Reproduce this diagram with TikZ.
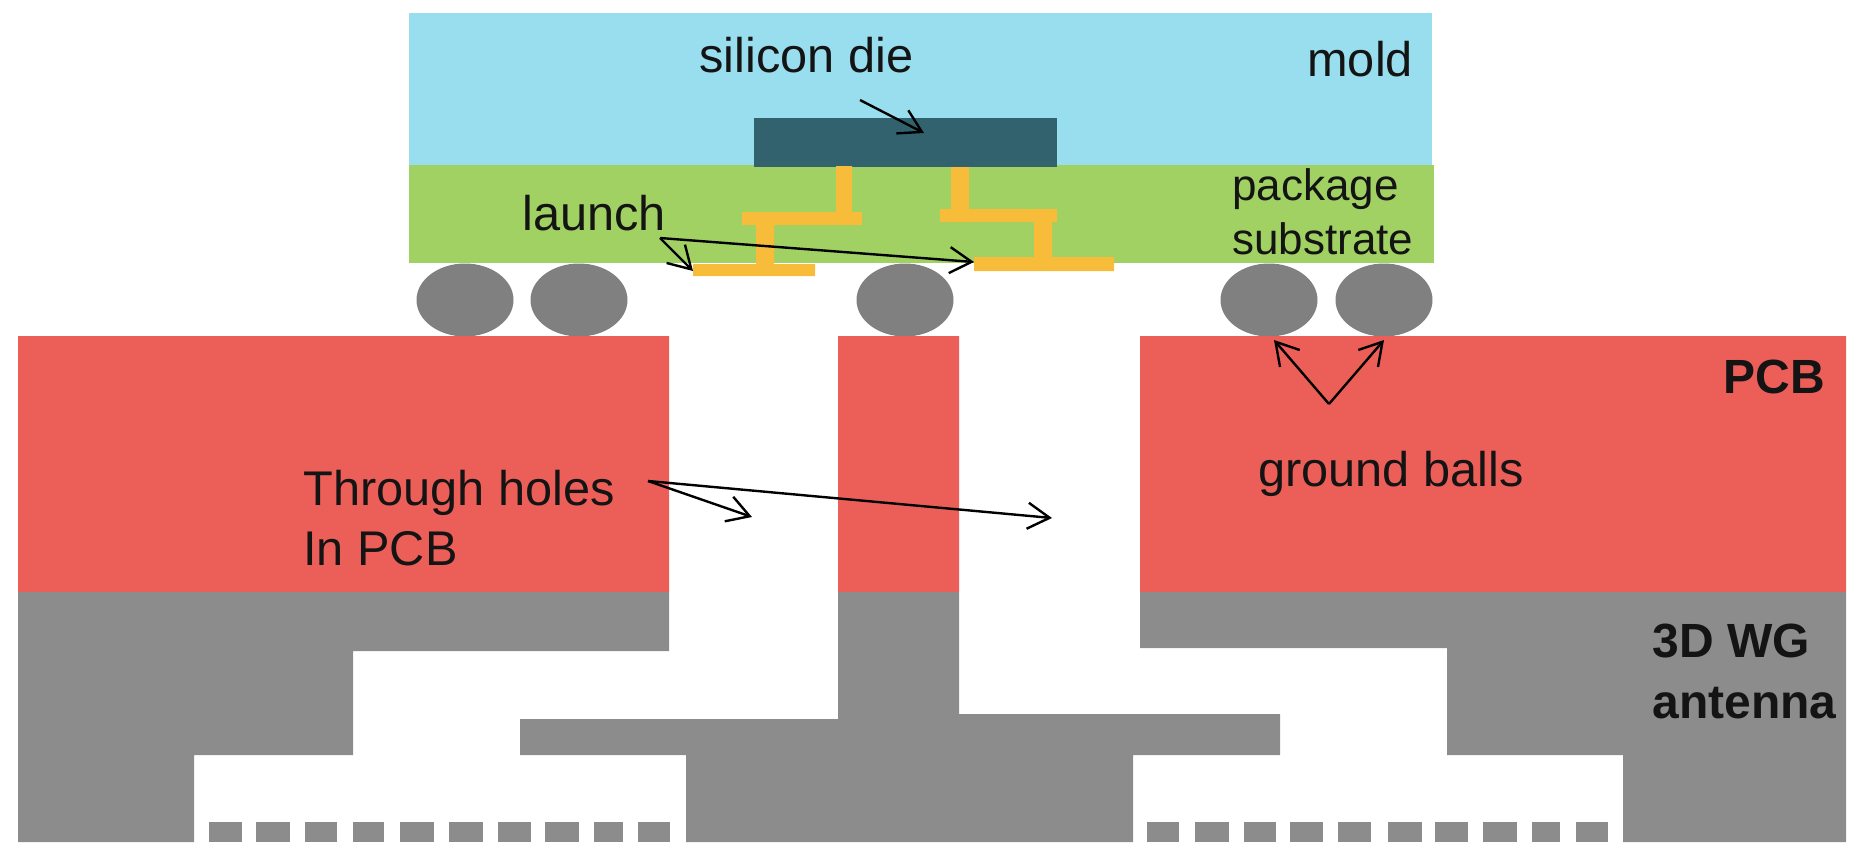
\documentclass[tikz,border=0pt]{standalone}
\usepackage{fontspec}
\setmainfont{Liberation Sans}
\usetikzlibrary{arrows.meta,shapes.geometric}
\definecolor{moldc}{HTML}{98DEEE}
\definecolor{subc}{HTML}{A0D162}
\definecolor{diec}{HTML}{33626F}
\definecolor{metalc}{HTML}{F6BC3A}
\definecolor{ballc}{HTML}{808080}
\definecolor{pcbc}{HTML}{EC5F59}
\definecolor{wgc}{HTML}{8C8C8C}
\definecolor{inkc}{HTML}{141414}
\tikzset{
  x=0.5pt,y=-0.5pt,
  lab/.style={anchor=base west,inner sep=0pt,text=inkc,font=\fontsize{24.35}{28}\selectfont},
  labsmall/.style={lab,font=\fontsize{22}{26}\selectfont},
  labbold/.style={lab,font=\fontsize{24}{28}\selectfont\bfseries},
  solder/.style={ellipse,fill=ballc,minimum width=48.5pt,minimum height=36.5pt,inner sep=0pt},
  pointer/.style={draw=black,line width=1.2pt,-{Straight Barb[length=11pt,width=13pt,line width=1.2pt]}},
}
\begin{document}
\begin{tikzpicture}
\useasboundingbox (0,0) rectangle (1864,852);
% package layers
\fill[moldc] (409,13) rectangle (1432,165);
\fill[subc] (409,165) rectangle (1434,263);
\fill[diec] (754,118) rectangle (1057,167);
% launch metal, left and right
\fill[metalc] (836,166) rectangle (852,214) (742,212) rectangle (862,225)
  (756,225) rectangle (774,265) (693,264) rectangle (815,276);
\fill[metalc] (951,167) rectangle (969,211) (940,209) rectangle (1057,222)
  (1034,222) rectangle (1052,258) (974,257) rectangle (1114,271);
% solder balls
\node[solder] (b1) at (465,300) {};
\node[solder] (b2) at (579,300) {};
\node[solder] (b3) at (905,300) {};
\node[solder] (b4) at (1269,300) {};
\node[solder] (b5) at (1384,300) {};
% printed circuit board
\fill[pcbc] (18,336) rectangle (669,592) (838,336) rectangle (959,592) (1140,336) rectangle (1846,592);
% waveguide antenna body
\fill[wgc] (18,592) -- (669,592) -- (669,651) -- (353,651) -- (353,755) -- (194,755) -- (194,842) -- (18,842) -- cycle;
\fill[wgc] (838,592) -- (959,592) -- (959,714) -- (1280,714) -- (1280,755) -- (1133,755) -- (1133,842) -- (686,842) -- (686,755) -- (520,755) -- (520,719) -- (838,719) -- cycle;
\fill[wgc] (1140,592) -- (1846,592) -- (1846,842) -- (1623,842) -- (1623,755) -- (1447,755) -- (1447,648) -- (1140,648) -- cycle;
% radiating slots
\foreach \a/\b in {209/242,256/290,305/337,353/384,400/434,449/483,498/531,545/579,594/623,638/670,
                   1147/1179,1195/1229,1244/1276,1290/1323,1338/1371,1388/1422,1435/1468,1483/1517,1532/1560,1576/1608}
  \fill[wgc] (\a,822) rectangle (\b,842);
% labels
\node[lab] (tdie) at (699,72) {silicon die};
\node[lab] (tmold) at (1307,76) {mold};
\node[lab] (tlaunch) at (522,230) {launch};
\node[labsmall] (tpack) at (1232,200) {package};
\node[labsmall] (tsub) at (1232,254) {substrate};
\node[labbold] (tpcb) at (1723,393) {PCB};
\node[lab] (thole) at (303,505) {Through holes};
\node[lab] (tin) at (303,565) {In PCB};
\node[lab] (tground) at (1258,486) {ground balls};
\node[labbold] (twg) at (1652,657) {3D WG};
\node[labbold] (tant) at (1652,718) {antenna};
% arrow ends
\coordinate (dieS) at (860,100);
\coordinate (dieE) at (924,133);
\coordinate (lauS) at (660,238);
\coordinate (lauA) at (693,271);
\coordinate (lauB) at (974,262);
\coordinate (holeS) at (648,481);
\coordinate (holeA) at (752,517);
\coordinate (holeB) at (1052,518);
\coordinate (gndS) at (1329,404);
\coordinate (gndA) at (1274,340);
\coordinate (gndB) at (1384,340);
\draw[pointer] (dieS) -- (dieE);
\draw[pointer] (lauS) -- (lauA);
\draw[pointer] (lauS) -- (lauB);
\draw[pointer] (holeS) -- (holeA);
\draw[pointer] (holeS) -- (holeB);
\draw[pointer] (gndS) -- (gndA);
\draw[pointer] (gndS) -- (gndB);
\end{tikzpicture}
\end{document}
